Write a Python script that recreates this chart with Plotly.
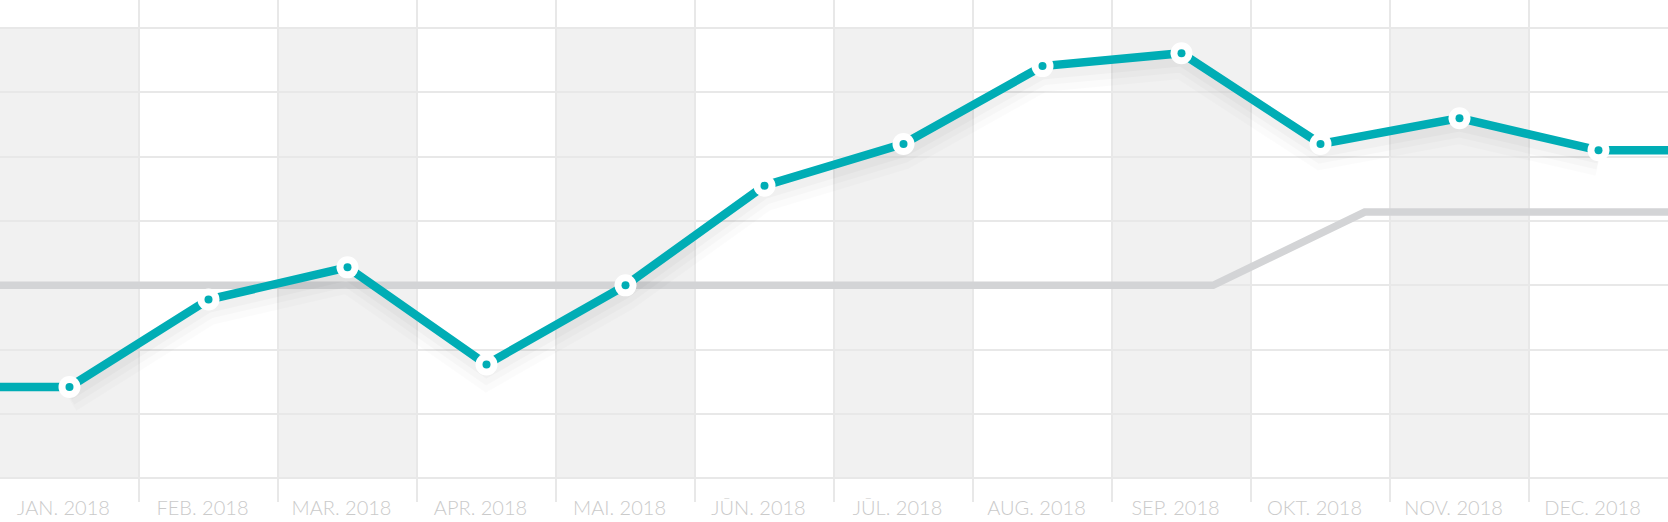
import plotly.graph_objects as go

# ---- data ----
months = ["JAN. 2018", "FEB. 2018", "MAR. 2018", "APR. 2018", "MAI. 2018", "JŪN. 2018",
          "JŪL. 2018", "AUG. 2018", "SEP. 2018", "OKT. 2018", "NOV. 2018", "DEC. 2018"]
actual = [1.42, 2.78, 3.28, 1.77, 3.0, 4.55, 5.2, 6.41, 6.61, 5.2, 5.6, 5.1]
target = [3.0, 3.0, 3.0, 3.0, 3.0, 3.0, 3.0, 3.0, 3.0, 4.14, 4.14, 4.14]
grid_levels = [0, 1, 2, 3, 4, 5, 6, 7]

TEAL = "#00adb5"
GRAY_LINE = "#d3d4d6"
SHADE = "#f1f1f1"
GRID = "#e8e8e8"

n = len(months)
xc = list(range(n))
x_lo, x_hi = -0.5, n - 0.5
# target line spans the full width with evenly spaced points
xt = [x_lo + i * (x_hi - x_lo) / (len(target) - 1) for i in range(len(target))]

fig = go.Figure()

# shaded alternate columns
shapes = []
for i in range(0, n, 2):
    shapes.append(dict(type="rect", xref="x", yref="y", x0=i - 0.5, x1=i + 0.5,
                       y0=grid_levels[0], y1=grid_levels[-1], fillcolor=SHADE,
                       line=dict(width=0), layer="below"))

fig.add_trace(go.Scatter(x=xt, y=target, mode="lines",
                         line=dict(color=GRAY_LINE, width=7.5), hoverinfo="skip"))

# soft shadow under the main line
for w, a, off in [(26, 0.015, 0.2), (18, 0.018, 0.16), (10, 0.022, 0.13)]:
    fig.add_trace(go.Scatter(x=xc, y=[v - off for v in actual], mode="lines",
                             line=dict(color=f"rgba(0,0,0,{a})", width=w), hoverinfo="skip"))

# flat extensions to edges
fig.add_trace(go.Scatter(x=[x_lo] + xc + [x_hi], y=[actual[0]] + actual + [actual[-1]],
                         mode="lines", line=dict(color=TEAL, width=8.5), hoverinfo="skip"))
fig.add_trace(go.Scatter(x=xc, y=actual, mode="markers",
                         marker=dict(size=22, color="white", line=dict(width=0)), hoverinfo="skip"))
fig.add_trace(go.Scatter(x=xc, y=actual, mode="markers",
                         marker=dict(size=8, color=TEAL, line=dict(width=0)), hoverinfo="skip"))

fig.update_layout(
    width=1668, height=522,
    margin=dict(l=0, r=0, t=0, b=20),
    paper_bgcolor="white", plot_bgcolor="white",
    showlegend=False,
    shapes=shapes,
    xaxis=dict(range=[x_lo, x_hi], tickvals=xc, ticktext=months, showgrid=False,
               zeroline=False, showline=False, ticks="", automargin=False,
               ticklabelstandoff=-8, ticklabelshift=-6,
               tickfont=dict(family="Lato", size=20, color="#cacaca", weight=300),
               minor=dict(tickmode="linear", tick0=-0.5, dtick=1, showgrid=True,
                          gridcolor=GRID, gridwidth=2, ticks="")),
    yaxis=dict(range=[-0.369, 7.438], tickvals=grid_levels, showticklabels=False,
               automargin=False,
               showgrid=True, gridcolor=GRID, gridwidth=2, zeroline=False, showline=False),
)

fig.write_html("out.html", config={"displayModeBar": False})

# remove default page margin so the figure fills the window exactly
with open("out.html", "r", encoding="utf-8") as f:
    html = f.read()
html = html.replace("<head>", "<head><style>html,body{margin:0;padding:0;overflow:hidden;}</style>", 1)
with open("out.html", "w", encoding="utf-8") as f:
    f.write(html)
